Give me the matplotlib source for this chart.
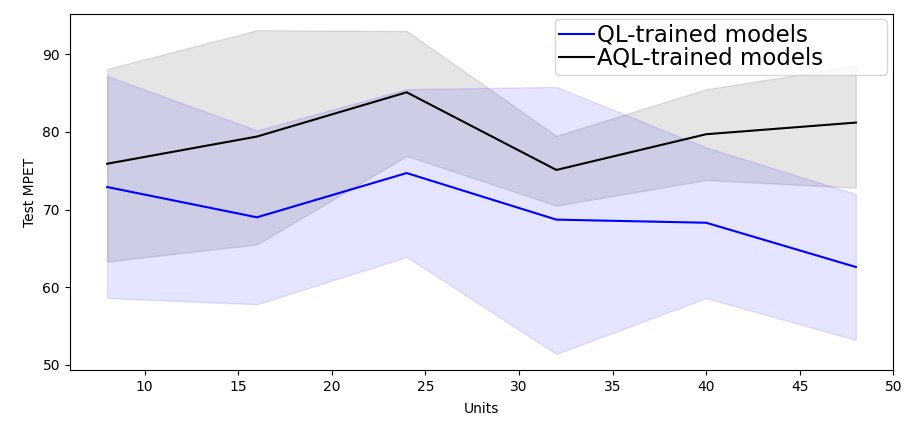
import matplotlib.pyplot as plt

units = [8, 16, 24, 32, 40, 48]

# QL-trained models
ql_mean = [72.9, 69.0, 74.7, 68.7, 68.3, 62.6]
ql_upper = [87.2, 80.2, 85.5, 85.8, 78.0, 72.0]
ql_lower = [58.6, 57.8, 63.9, 51.4, 58.6, 53.2]

# AQL-trained models
aql_mean = [75.9, 79.4, 85.1, 75.1, 79.7, 81.2]
aql_upper = [88.1, 93.1, 93.0, 79.5, 85.5, 88.5]
aql_lower = [63.3, 65.5, 76.9, 70.5, 73.8, 72.8]

fig, ax = plt.subplots(figsize=(9.06, 4.24), dpi=100)

ax.plot(units, ql_mean, color="blue", label="QL-trained models")
ax.fill_between(units, ql_lower, ql_upper, color="blue", alpha=0.1)
ax.plot(units, aql_mean, color="black", label="AQL-trained models")
ax.fill_between(units, aql_lower, aql_upper, color="black", alpha=0.1)

ax.set_xlabel("Units", labelpad=6)
ax.set_ylabel("Test MPET")
ax.legend(loc="upper left", bbox_to_anchor=(0.589, 0.985, 0.403, 0.0),
          mode="expand", fontsize=16.5, handlelength=1.5,
          handletextpad=0.15, borderpad=0.2, labelspacing=0.0,
          borderaxespad=0.0)

plt.subplots_adjust(left=0.077, right=0.986, top=0.967, bottom=0.127)
plt.savefig("out.png")
